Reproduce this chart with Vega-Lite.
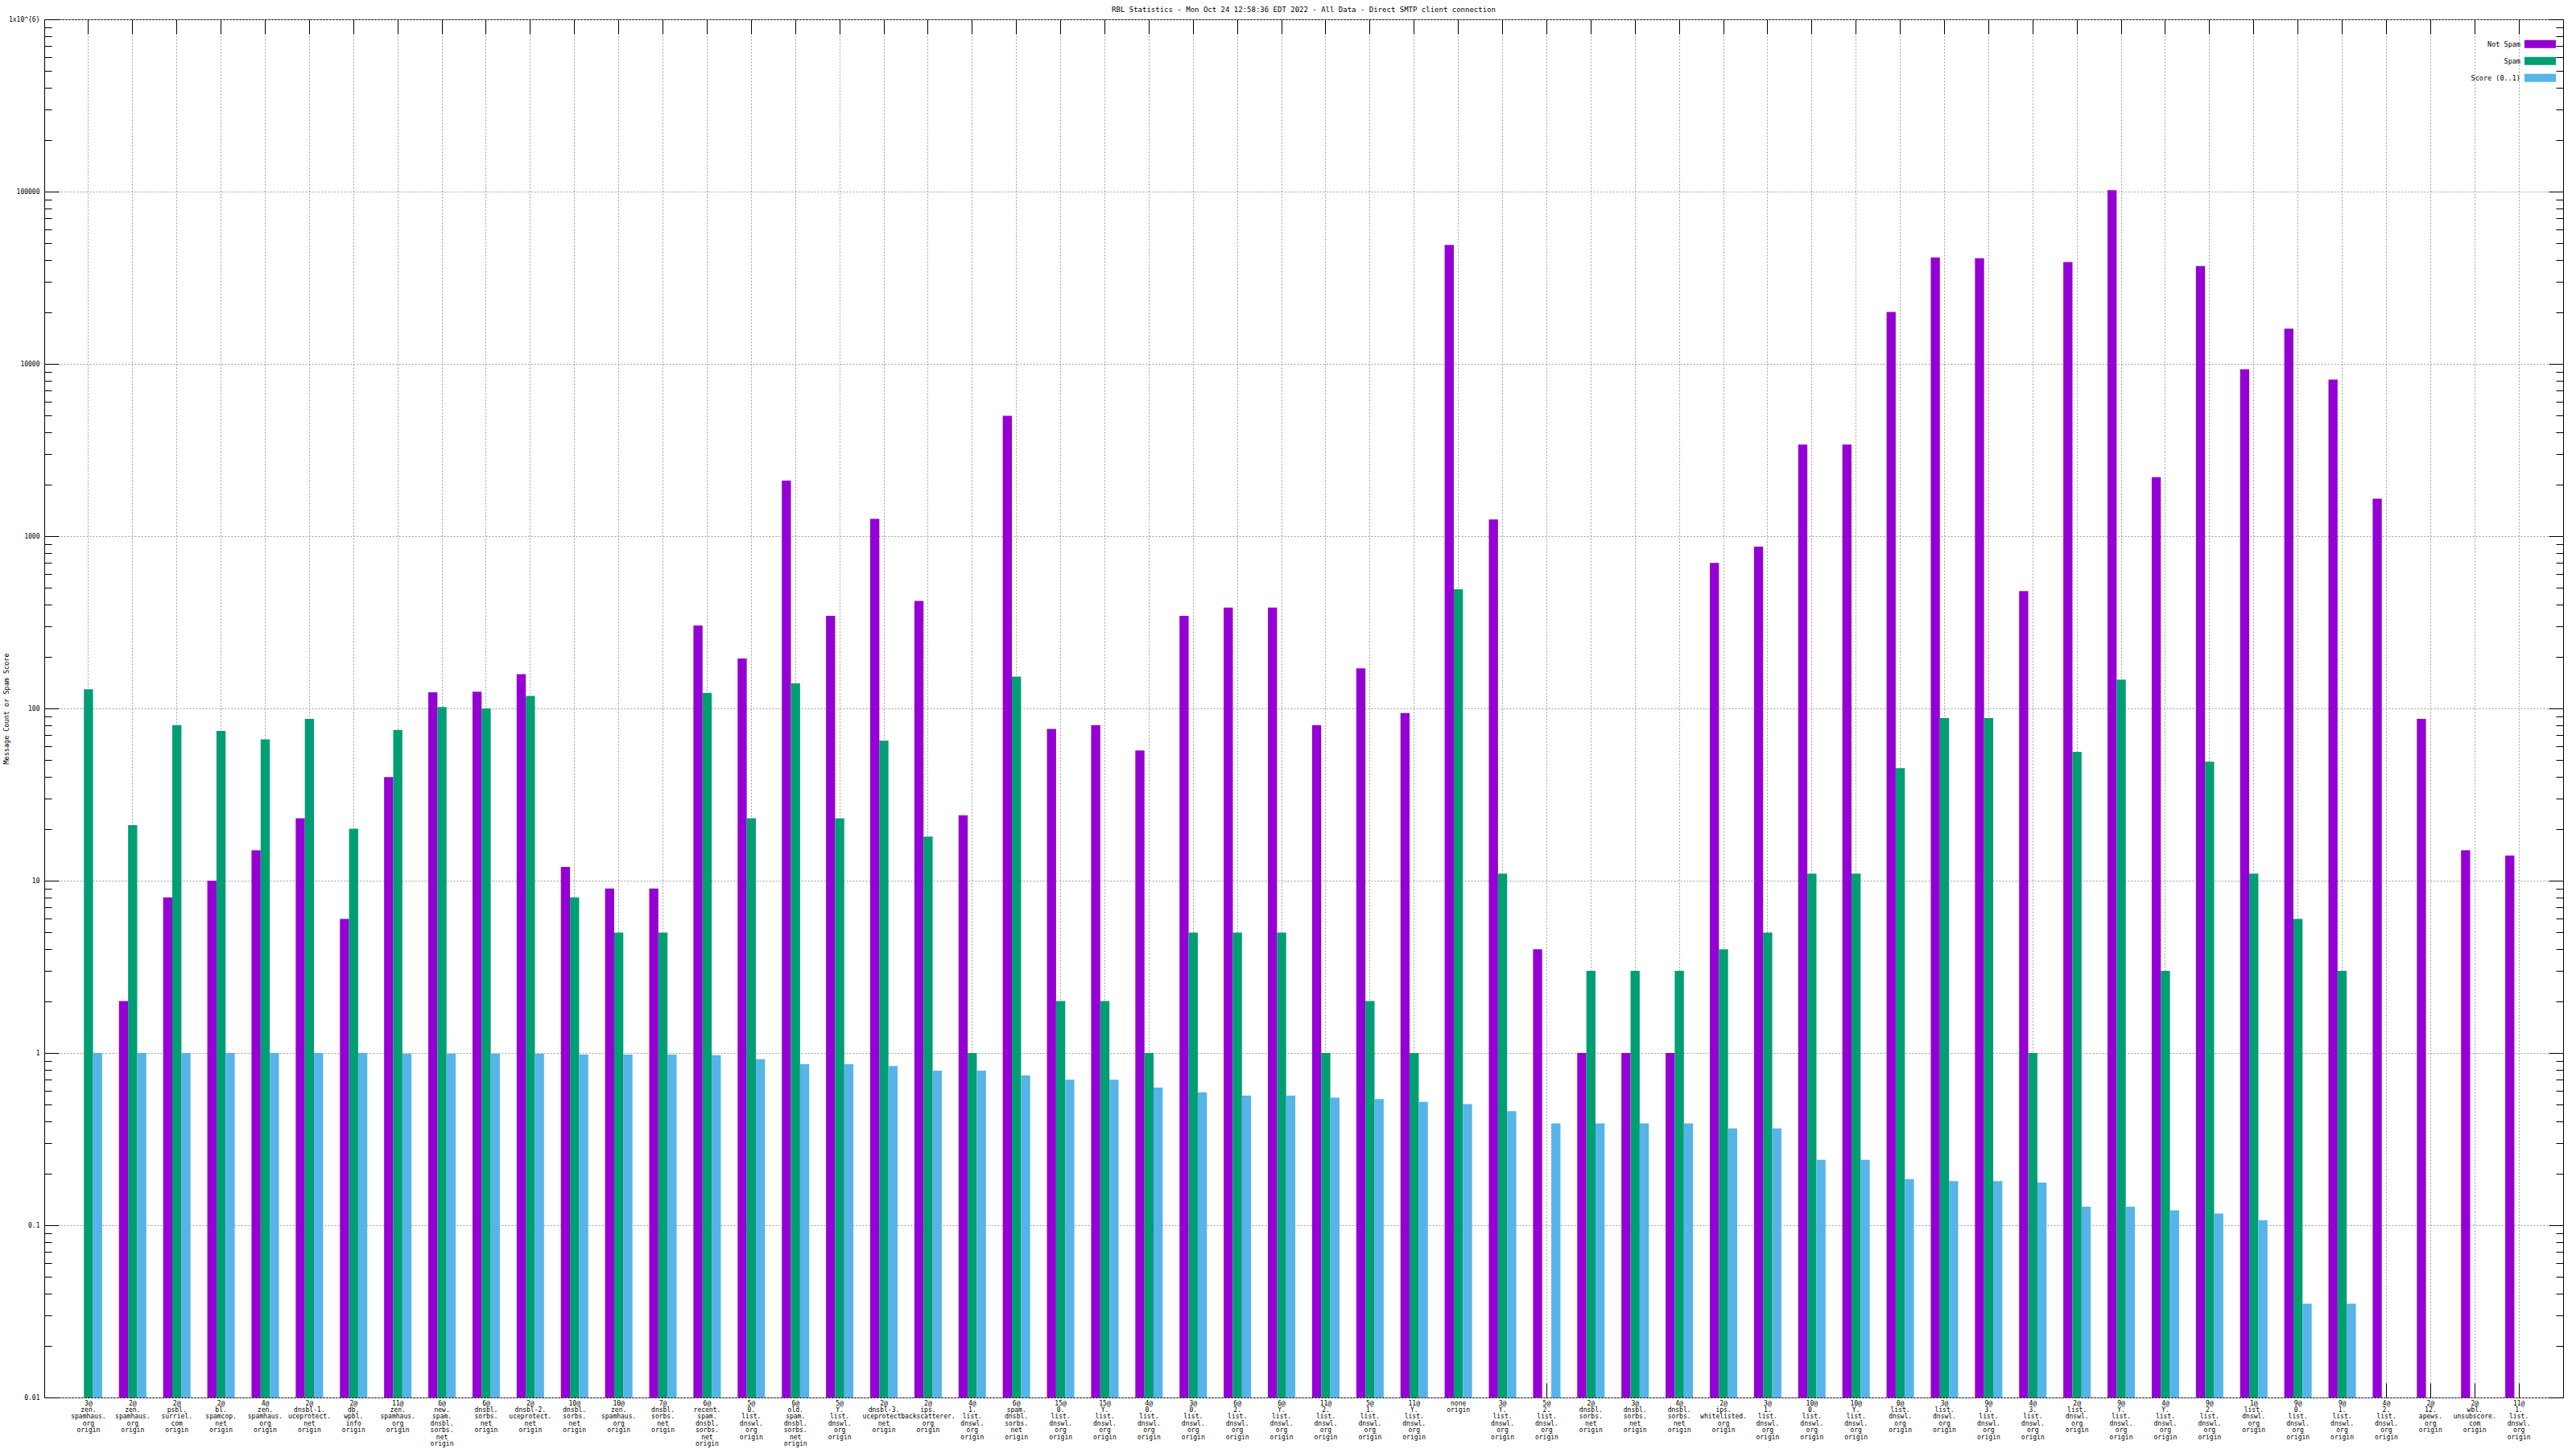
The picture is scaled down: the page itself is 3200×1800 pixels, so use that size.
{
  "$schema": "https://vega.github.io/schema/vega-lite/v6.json",
  "width": 3129,
  "height": 1712,
  "autosize": "none",
  "padding": {"left": 55, "top": 24, "right": 16, "bottom": 64},
  "background": "white",
  "title": {"text": "RBL Statistics - Mon Oct 24 12:58:36 EDT 2022 - All Data - Direct SMTP client connection", "fontSize": 9, "font": "DejaVu Sans Mono", "fontWeight": "normal", "anchor": "middle", "frame": "group", "offset": 3, "color": "black"},
  "data": {"values": [
    {"g": "3@\nzen.\nspamhaus.\norg\norigin", "NotSpam": null, "Spam": 129, "Score": 1.0},
    {"g": "2@\nzen.\nspamhaus.\norg\norigin", "NotSpam": 2, "Spam": 21, "Score": 1.0},
    {"g": "2@\npsbl.\nsurriel.\ncom\norigin", "NotSpam": 8, "Spam": 80, "Score": 1.0},
    {"g": "2@\nbl.\nspamcop.\nnet\norigin", "NotSpam": 10, "Spam": 74, "Score": 1.0},
    {"g": "4@\nzen.\nspamhaus.\norg\norigin", "NotSpam": 15, "Spam": 66, "Score": 1.0},
    {"g": "2@\ndnsbl-1.\nuceprotect.\nnet\norigin", "NotSpam": 23, "Spam": 87, "Score": 1.0},
    {"g": "2@\ndb.\nwpbl.\ninfo\norigin", "NotSpam": 6, "Spam": 20, "Score": 1.0},
    {"g": "11@\nzen.\nspamhaus.\norg\norigin", "NotSpam": 40, "Spam": 75, "Score": 0.99},
    {"g": "6@\nnew.\nspam.\ndnsbl.\nsorbs.\nnet\norigin", "NotSpam": 124, "Spam": 102, "Score": 0.99},
    {"g": "6@\ndnsbl.\nsorbs.\nnet\norigin", "NotSpam": 125, "Spam": 100, "Score": 0.99},
    {"g": "2@\ndnsbl-2.\nuceprotect.\nnet\norigin", "NotSpam": 158, "Spam": 118, "Score": 0.99},
    {"g": "10@\ndnsbl.\nsorbs.\nnet\norigin", "NotSpam": 12, "Spam": 8, "Score": 0.98},
    {"g": "10@\nzen.\nspamhaus.\norg\norigin", "NotSpam": 9, "Spam": 5, "Score": 0.98},
    {"g": "7@\ndnsbl.\nsorbs.\nnet\norigin", "NotSpam": 9, "Spam": 5, "Score": 0.98},
    {"g": "6@\nrecent.\nspam.\ndnsbl.\nsorbs.\nnet\norigin", "NotSpam": 303, "Spam": 123, "Score": 0.97},
    {"g": "5@\n0.\nlist.\ndnswl.\norg\norigin", "NotSpam": 195, "Spam": 23, "Score": 0.92},
    {"g": "6@\nold.\nspam.\ndnsbl.\nsorbs.\nnet\norigin", "NotSpam": 2100, "Spam": 140, "Score": 0.86},
    {"g": "5@\nY.\nlist.\ndnswl.\norg\norigin", "NotSpam": 345, "Spam": 23, "Score": 0.86},
    {"g": "2@\ndnsbl-3.\nuceprotect.\nnet\norigin", "NotSpam": 1260, "Spam": 65, "Score": 0.84},
    {"g": "2@\nips.\nbackscatterer.\norg\norigin", "NotSpam": 420, "Spam": 18, "Score": 0.79},
    {"g": "4@\n1.\nlist.\ndnswl.\norg\norigin", "NotSpam": 24, "Spam": 1, "Score": 0.79},
    {"g": "6@\nspam.\ndnsbl.\nsorbs.\nnet\norigin", "NotSpam": 5000, "Spam": 153, "Score": 0.74},
    {"g": "15@\n0.\nlist.\ndnswl.\norg\norigin", "NotSpam": 76, "Spam": 2, "Score": 0.7},
    {"g": "15@\nY.\nlist.\ndnswl.\norg\norigin", "NotSpam": 80, "Spam": 2, "Score": 0.7},
    {"g": "4@\n0.\nlist.\ndnswl.\norg\norigin", "NotSpam": 57, "Spam": 1, "Score": 0.63},
    {"g": "3@\n0.\nlist.\ndnswl.\norg\norigin", "NotSpam": 345, "Spam": 5, "Score": 0.59},
    {"g": "6@\n2.\nlist.\ndnswl.\norg\norigin", "NotSpam": 385, "Spam": 5, "Score": 0.565},
    {"g": "6@\nY.\nlist.\ndnswl.\norg\norigin", "NotSpam": 385, "Spam": 5, "Score": 0.565},
    {"g": "11@\n2.\nlist.\ndnswl.\norg\norigin", "NotSpam": 80, "Spam": 1, "Score": 0.55},
    {"g": "5@\n1.\nlist.\ndnswl.\norg\norigin", "NotSpam": 171, "Spam": 2, "Score": 0.54},
    {"g": "11@\nY.\nlist.\ndnswl.\norg\norigin", "NotSpam": 94, "Spam": 1, "Score": 0.52},
    {"g": "none\norigin", "NotSpam": 49000, "Spam": 491, "Score": 0.505},
    {"g": "3@\nY.\nlist.\ndnswl.\norg\norigin", "NotSpam": 1250, "Spam": 11, "Score": 0.46},
    {"g": "5@\n2.\nlist.\ndnswl.\norg\norigin", "NotSpam": 4, "Spam": null, "Score": 0.39},
    {"g": "2@\ndnsbl.\nsorbs.\nnet\norigin", "NotSpam": 1, "Spam": 3, "Score": 0.39},
    {"g": "3@\ndnsbl.\nsorbs.\nnet\norigin", "NotSpam": 1, "Spam": 3, "Score": 0.39},
    {"g": "4@\ndnsbl.\nsorbs.\nnet\norigin", "NotSpam": 1, "Spam": 3, "Score": 0.39},
    {"g": "2@\nips.\nwhitelisted.\norg\norigin", "NotSpam": 700, "Spam": 4, "Score": 0.365},
    {"g": "3@\n1.\nlist.\ndnswl.\norg\norigin", "NotSpam": 870, "Spam": 5, "Score": 0.365},
    {"g": "10@\n0.\nlist.\ndnswl.\norg\norigin", "NotSpam": 3400, "Spam": 11, "Score": 0.24},
    {"g": "10@\nY.\nlist.\ndnswl.\norg\norigin", "NotSpam": 3400, "Spam": 11, "Score": 0.24},
    {"g": "0@\nlist.\ndnswl.\norg\norigin", "NotSpam": 20000, "Spam": 45, "Score": 0.185},
    {"g": "3@\nlist.\ndnswl.\norg\norigin", "NotSpam": 41500, "Spam": 88, "Score": 0.18},
    {"g": "9@\n3.\nlist.\ndnswl.\norg\norigin", "NotSpam": 41000, "Spam": 88, "Score": 0.18},
    {"g": "4@\n3.\nlist.\ndnswl.\norg\norigin", "NotSpam": 480, "Spam": 1, "Score": 0.177},
    {"g": "2@\nlist.\ndnswl.\norg\norigin", "NotSpam": 39000, "Spam": 56, "Score": 0.128},
    {"g": "9@\nY.\nlist.\ndnswl.\norg\norigin", "NotSpam": 102000, "Spam": 147, "Score": 0.128},
    {"g": "4@\nY.\nlist.\ndnswl.\norg\norigin", "NotSpam": 2200, "Spam": 3, "Score": 0.122},
    {"g": "9@\n2.\nlist.\ndnswl.\norg\norigin", "NotSpam": 37000, "Spam": 49, "Score": 0.117},
    {"g": "1@\nlist.\ndnswl.\norg\norigin", "NotSpam": 9300, "Spam": 11, "Score": 0.107},
    {"g": "9@\n0.\nlist.\ndnswl.\norg\norigin", "NotSpam": 16000, "Spam": 6, "Score": 0.035},
    {"g": "9@\n1.\nlist.\ndnswl.\norg\norigin", "NotSpam": 8100, "Spam": 3, "Score": 0.035},
    {"g": "4@\n2.\nlist.\ndnswl.\norg\norigin", "NotSpam": 1650, "Spam": null, "Score": null},
    {"g": "2@\n12.\napews.\norg\norigin", "NotSpam": 87, "Spam": null, "Score": null},
    {"g": "2@\nwbl.\nunsubscore.\ncom\norigin", "NotSpam": 15, "Spam": null, "Score": null},
    {"g": "11@\n1.\nlist.\ndnswl.\norg\norigin", "NotSpam": 14, "Spam": null, "Score": null}
  ]},
  "transform": [
    {"fold": ["NotSpam", "Spam", "Score"], "as": ["series", "value"]},
    {"filter": "datum.value != null"}
  ],
  "resolve": {"axis": {"x": "independent", "y": "independent"}},
  "layer": [
    {
      "mark": {"type": "bar"},
      "encoding": {
        "x": {"field": "g", "type": "nominal", "sort": null,
          "scale": {"paddingInner": 0.38, "paddingOuter": 0.69},
          "axis": {"orient": "bottom", "title": null, "labelExpr": "split(datum.label, '\\n')", "labelAngle": 0, "labelFontSize": 8, "labelLineHeight": 8.4, "labelPadding": 3, "labelBaseline": "top", "labelOverlap": false, "labelBound": false, "labelFlush": false, "labelLimit": 0, "ticks": false, "tickSize": 0, "domain": false, "grid": true, "bandPosition": 0.5}},
        "xOffset": {"field": "series", "type": "nominal", "scale": {"domain": ["NotSpam", "Spam", "Score"], "paddingInner": 0, "paddingOuter": 0}},
        "y": {"field": "value", "type": "quantitative",
          "scale": {"type": "log", "domain": [0.01, 1000000], "nice": false},
          "axis": {"orient": "left", "values": [0.01, 0.1, 1, 10, 100, 1000, 10000, 100000, 1000000], "labelExpr": "datum.value >= 1000000 ? '1x10^{6}' : datum.value >= 1 ? format(datum.value, 'd') : toString(datum.value)", "ticks": false, "tickSize": 0, "grid": true, "domain": false, "labelPadding": 6, "labelFontSize": 8, "labelOverlap": false, "labelBound": false, "labelFlush": false,
            "title": "Message Count or Spam Score", "titleX": -48, "titleY": 856, "titleAngle": 270, "titleAlign": "center", "titleBaseline": "middle", "titleFontSize": 8.5, "titleFontWeight": "normal", "titleFont": "DejaVu Sans Mono", "titleColor": "black"}},
        "y2": {"datum": 0.01},
        "color": {"field": "series", "type": "nominal",
          "scale": {"domain": ["NotSpam", "Spam", "Score"], "range": ["#9400d3", "#009e73", "#56b4e9"]},
          "legend": {"orient": "none", "legendX": 3095.5, "legendY": 25.7, "title": null, "symbolType": "M-3.9,-1H3.9V1H-3.9Z", "symbolSize": 100, "symbolStrokeWidth": 0, "symbolOpacity": 1, "labelAlign": "right", "labelOffset": -29.5, "rowPadding": 11, "labelFont": "DejaVu Sans Mono", "labelFontSize": 8.5, "labelColor": "black", "padding": 0,
            "labelExpr": "datum.label == 'NotSpam' ? 'Not Spam' : datum.label == 'Score' ? 'Score (0..1)' : datum.label"}}
      }
    },
    {
      "mark": {"type": "bar", "opacity": 0},
      "encoding": {
        "x": {"field": "g", "type": "nominal", "sort": null,
          "axis": {"orient": "bottom", "offset": -18, "tickSize": 18, "ticks": true, "labels": false, "domain": false, "grid": false, "title": null, "bandPosition": 0.5}},
        "y": {"field": "value", "type": "quantitative",
          "axis": {"orient": "left", "offset": -18, "tickSize": 18, "values": [0.01, 0.1, 1, 10, 100, 1000, 10000, 100000, 1000000], "labels": false, "domain": false, "grid": false, "title": null}},
        "y2": {"datum": 0.01}
      }
    },
    {
      "mark": {"type": "bar", "opacity": 0},
      "encoding": {
        "x": {"field": "g", "type": "nominal", "sort": null,
          "axis": {"orient": "top", "offset": -18, "tickSize": 18, "ticks": true, "labels": false, "domain": false, "grid": false, "title": null, "bandPosition": 0.5}},
        "y": {"field": "value", "type": "quantitative",
          "axis": {"orient": "left", "offset": -9, "tickSize": 9, "values": [0.02,0.03,0.04,0.05,0.06,0.07,0.08,0.09,0.2,0.3,0.4,0.5,0.6,0.7,0.8,0.9,2,3,4,5,6,7,8,9,20,30,40,50,60,70,80,90,200,300,400,500,600,700,800,900,2000,3000,4000,5000,6000,7000,8000,9000,20000,30000,40000,50000,60000,70000,80000,90000,200000,300000,400000,500000,600000,700000,800000,900000], "labels": false, "domain": false, "grid": false, "title": null}},
        "y2": {"datum": 0.01}
      }
    },
    {
      "mark": {"type": "bar", "opacity": 0},
      "encoding": {
        "x": {"field": "g", "type": "nominal", "sort": null, "axis": null},
        "y": {"field": "value", "type": "quantitative",
          "axis": {"orient": "right", "offset": -18, "tickSize": 18, "values": [0.01, 0.1, 1, 10, 100, 1000, 10000, 100000, 1000000], "labels": false, "domain": false, "grid": false, "title": null}},
        "y2": {"datum": 0.01}
      }
    },
    {
      "mark": {"type": "bar", "opacity": 0},
      "encoding": {
        "x": {"field": "g", "type": "nominal", "sort": null, "axis": null},
        "y": {"field": "value", "type": "quantitative",
          "axis": {"orient": "right", "offset": -9, "tickSize": 9, "values": [0.02,0.03,0.04,0.05,0.06,0.07,0.08,0.09,0.2,0.3,0.4,0.5,0.6,0.7,0.8,0.9,2,3,4,5,6,7,8,9,20,30,40,50,60,70,80,90,200,300,400,500,600,700,800,900,2000,3000,4000,5000,6000,7000,8000,9000,20000,30000,40000,50000,60000,70000,80000,90000,200000,300000,400000,500000,600000,700000,800000,900000], "labels": false, "domain": false, "grid": false, "title": null}},
        "y2": {"datum": 0.01}
      }
    }
  ],
  "config": {
    "view": {"stroke": "black", "strokeWidth": 1},
    "font": "DejaVu Sans Mono",
    "axis": {"labelFont": "DejaVu Sans Mono", "labelColor": "black", "tickColor": "black", "tickWidth": 1, "gridColor": "#a0a0a0", "gridDash": [2, 2], "gridWidth": 1, "gridOpacity": 1},
    "legend": {"labelFont": "DejaVu Sans Mono"}
  }
}
